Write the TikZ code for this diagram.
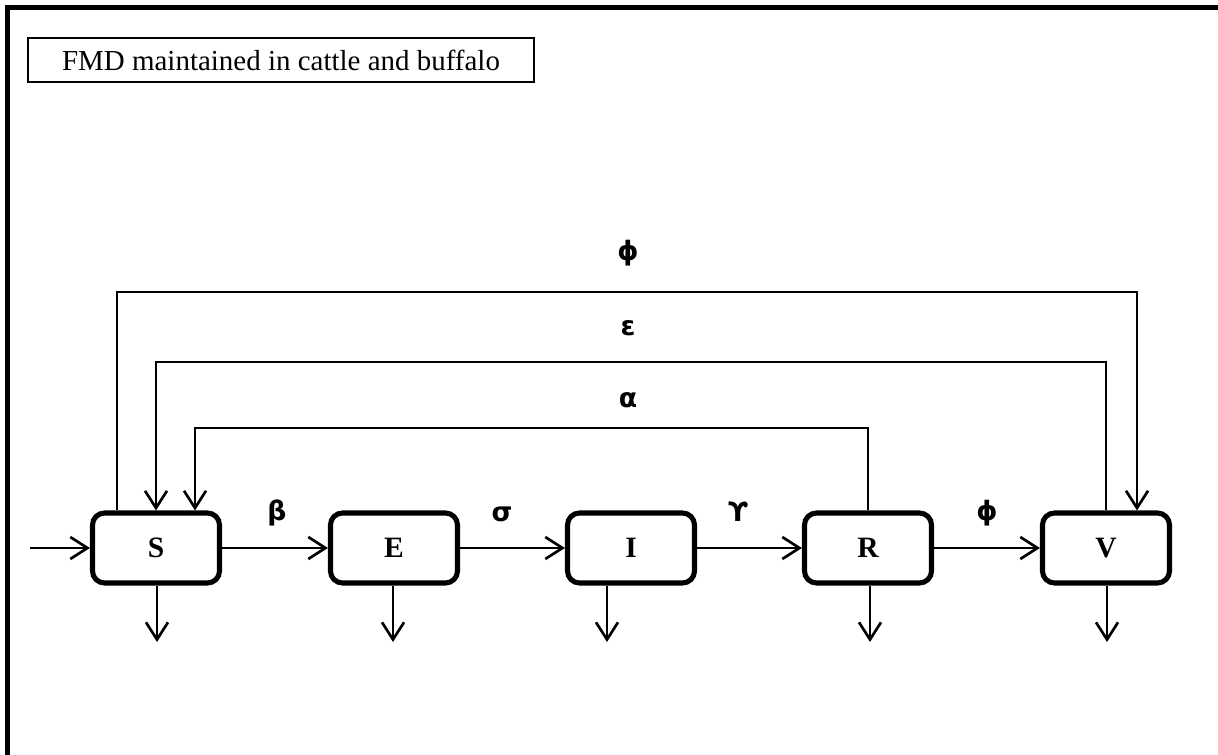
\documentclass[tikz,border=0pt]{standalone}
\usepackage{fontspec}
\setmainfont{Liberation Serif}
\newfontfamily\greekfont{DejaVu Sans}
\usepackage{tikz}
\usetikzlibrary{arrows.meta,positioning,calc}
\tikzset{comp/.style={draw,line width=3.6pt,rounded corners=.3cm,minimum width=3.175cm,minimum height=1.75cm,inner sep=0pt,font=\fontsize{21}{24}\selectfont\bfseries},arr/.style={-{Straight Barb[length=4.3mm,width=5.5mm]},line width=1.9pt},rate/.style={font=\greekfont\bfseries\fontsize{19}{22}\selectfont,inner sep=0pt},titlebox/.style={draw,line width=1.4pt,minimum width=12.65cm,minimum height=1.1cm,inner sep=0pt,font=\fontsize{20.6}{24}\selectfont}}

\begin{document}
\begin{tikzpicture}[x=.025cm,y=-.025cm]
\useasboundingbox (0,0) rectangle (1218,755);
\draw[line width=3.5pt] (7.5,780) |- (1240,7.5);
\node[titlebox] (title) at (281,60) {FMD maintained in cattle and buffalo};
% compartments
\foreach \n/\x in {S/156,E/394,I/631,R/868,V/1106}{\node[comp] (\n) at (\x,548) {\n};}
\coordinate (in) at (30,548);
\draw[arr] (in) -- (S);
\foreach \a/\b in {S/E,E/I,I/R,R/V}{\draw[arr] (\a) -- (\b);}
\node[rate] (l-beta) at (277,513) {β};
\node[rate] (l-sigma) at (502,514) {σ};
\node[rate] (l-gamma) at (738,512) {ϒ};
\node[rate] (l-vacc) at (987,513) {ϕ};
% deaths
\foreach \n/\x in {S/157,E/393,I/607,R/870,V/1107}{\coordinate (\n-out) at (\x,642); \draw[arr] (\n.south -| \n-out) -- (\n-out);}
% return flows over the top
\coordinate (phi-top) at (628,292);
\coordinate (eps-top) at (628,362);
\coordinate (alpha-top) at (628,428);
\draw[arr] ([xshift=-.975cm]S.north) |- (phi-top) -| ([xshift=.775cm]V.north);
\draw[arr] (V.north) |- (eps-top) -| (S.north);
\draw[arr] (R.north) |- (alpha-top) -| ([xshift=.975cm]S.north);
\node[rate] (l-phi) at (628,253) {ϕ};
\node[rate] (l-eps) at (628,328) {ε};
\node[rate] (l-alpha) at (628,400) {α};
\end{tikzpicture}
\end{document}
